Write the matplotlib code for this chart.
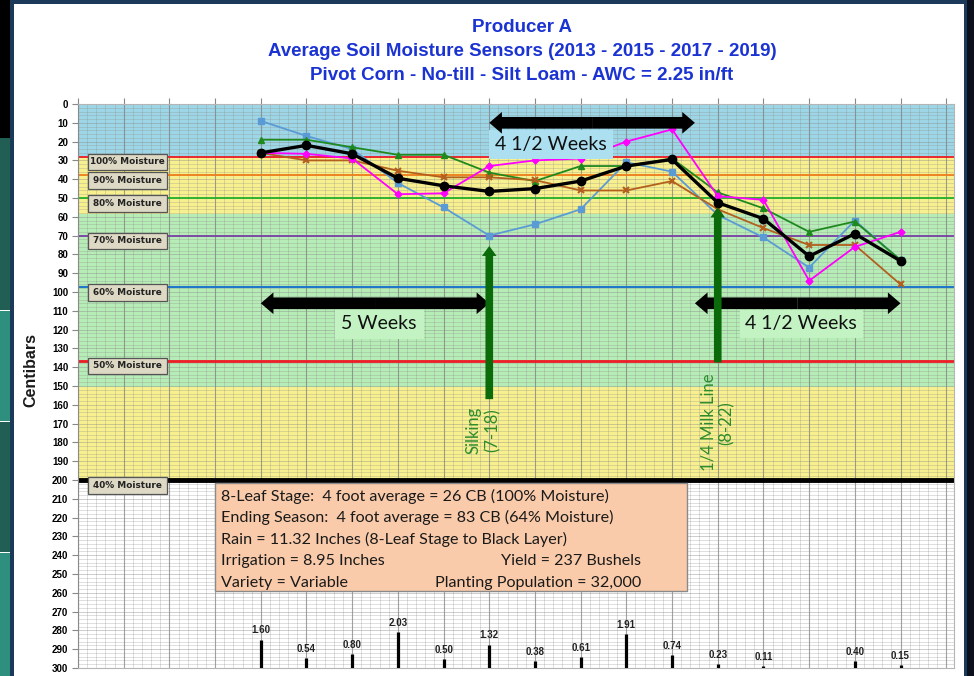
import matplotlib
matplotlib.use("Agg")
import matplotlib.pyplot as plt
import numpy as np
from matplotlib.patches import Rectangle
from matplotlib.transforms import Affine2D
from matplotlib.ticker import MultipleLocator

# ---- data ----
weeks = [4, 5, 6, 7, 8, 9, 10, 11, 12, 13, 14, 15, 16, 17, 18]

sensor_blue = [9, 17, 24, 42, 55, 70, 64, 56, 31, 36, 59, 71, 87, 62, 83]
sensor_green = [19, 19, 23, 27, 27, 36.5, 41, 33, 33, 29, 47, 55.5, 68, 62.5, 83]
sensor_brown = [26, 30, 30, 35.5, 39, 39, 40.5, 46, 46, 41, 56, 66, 75, 75, 96]
sensor_pink = [26, 26.5, 29, 48, 47.5, 33, 30, 29, 20, 13.5, 49, 51, 94, 76, 68]
sensor_avg = [26, 22, 26.5, 39.5, 43.5, 46.5, 45, 41, 33, 29.5, 52.5, 61, 81, 69, 83.5]

rain_weeks = [4, 5, 6, 7, 8, 9, 10, 11, 12, 13, 14, 15, 17, 18]
rain_in = [1.60, 0.54, 0.80, 2.03, 0.50, 1.32, 0.38, 0.61, 1.91, 0.74, 0.23, 0.11, 0.40, 0.15]

moist_levels = [28, 38, 50, 70, 97.5, 136.5, 200]
moist_labels = ["100% Moisture", "90% Moisture", "80% Moisture", "70% Moisture",
                "60% Moisture", "50% Moisture", "40% Moisture"]
moist_colors = ["#ee1c25", "#ee7d1a", "#22b02a", "#7a3fa6", "#1f78c8", "#ee1c25", "black"]
moist_widths = [1.3, 1.3, 1.3, 1.3, 1.5, 2.0, 3.5]

bands = [(0, 28, "#9dd6e6"), (28, 58.5, "#f8f08e"), (58.5, 150.5, "#b6ecb6"), (150.5, 200, "#f8f08e")]

info_left = ["8-Leaf Stage:  4 foot average = 26 CB (100% Moisture)",
             "Ending Season:  4 foot average = 83 CB (64% Moisture)",
             "Rain = 11.32 Inches (8-Leaf Stage to Black Layer)",
             "Irrigation = 8.95 Inches",
             "Variety = Variable"]
info_right = ["", "", "", "Yield = 237 Bushels", "Planting Population = 32,000"]

title_lines = ["Producer A",
               "Average Soil Moisture Sensors (2013 - 2015 - 2017 - 2019)",
               "Pivot Corn - No-till - Silt Loam - AWC = 2.25 in/ft"]

W, H = 974, 676
fig = plt.figure(figsize=(W / 100, H / 100), dpi=100)
fig.patch.set_facecolor("white")

# pixel coords (top-left origin) -> figure
pix = Affine2D().scale(1 / W, -1 / H).translate(0, 1) + fig.transFigure


def fig_rect(x, y, w, h, color):
    fig.add_artist(Rectangle((x, y), w, h, transform=pix, facecolor=color, edgecolor="none", zorder=-5))


# slide frame around the chart
fig_rect(0, 0, 10, 138, "black")
fig_rect(0, 138, 10, 172, "#215f55")
fig_rect(0, 311, 10, 110, "#2f8f7f")
fig_rect(0, 422, 10, 130, "#215f55")
fig_rect(0, 553, 10, 123, "#2f8f7f")
fig_rect(10, 0, 4, H, "#1b3a5a")
fig_rect(10, 0, 958, 4, "#1b3a5a")
fig_rect(964, 0, 4, H, "#1b3a5a")
fig_rect(967, 0, 7, H, "#0a111c")

ax = fig.add_axes([78 / W, 8 / H, 876 / W, 564 / H])
ax.set_xlim(0, 19.17)
ax.set_ylim(300, 0)

for y0, y1, c in bands:
    ax.axhspan(y0, y1, color=c, zorder=0.1, lw=0)

ax.set_axisbelow(True)
ax.xaxis.set_major_locator(MultipleLocator(1))
ax.xaxis.set_minor_locator(MultipleLocator(0.2))
ax.yaxis.set_major_locator(MultipleLocator(10))
ax.yaxis.set_minor_locator(MultipleLocator(2))
ax.grid(which="minor", color="#8c8c8c", alpha=0.4, lw=0.5)
ax.grid(which="major", axis="y", color="#8c8c8c", alpha=0.5, lw=0.6)
ax.grid(which="major", axis="x", color="#7a7a7a", alpha=0.7, lw=0.8)

ax.xaxis.tick_top()
ax.tick_params(axis="x", which="major", length=4, color="#888888", labeltop=False)
ax.tick_params(axis="x", which="minor", length=0)
ax.tick_params(axis="y", which="major", length=4, color="#888888", pad=3)
ax.tick_params(axis="y", which="minor", length=0)
for lab in ax.get_yticklabels():
    lab.set_fontfamily("Liberation Sans")
    lab.set_fontweight("bold")
    lab.set_fontsize(7)
for s in ax.spines.values():
    s.set_color("#b5b5b5")
    s.set_linewidth(0.8)
ax.spines["left"].set_color("#8a8a8a")

# moisture reference lines + labels
for lvl, lab, c, lw in zip(moist_levels, moist_labels, moist_colors, moist_widths):
    ax.axhline(lvl, color=c, lw=lw, zorder=1.2)
    ax.add_patch(Rectangle((0.22, lvl - 1.6), 1.73, 8.8, facecolor="#ddd9c4", edgecolor="#555555",
                           lw=0.9, zorder=3))
    ax.text(1.085, lvl + 2.8, lab, ha="center", va="center", fontsize=6.4,
            fontweight="bold", family="DejaVu Sans", color="#222222", zorder=3.5)

# sensor series
ax.plot(weeks, sensor_blue, color="#5b9bd5", lw=1.3, marker="s", ms=4, zorder=4)
ax.plot(weeks, sensor_green, color="#1e8a1e", lw=1.3, marker="^", ms=4.5, zorder=4)
ax.plot(weeks, sensor_brown, color="#b35f1e", lw=1.3, marker="x", ms=4.5, mew=1.5, zorder=4)
ax.plot(weeks, sensor_pink, color="#ff00ff", lw=1.3, marker="D", ms=3.5, zorder=4)
ax.plot(weeks, sensor_avg, color="black", lw=2.4, marker="o", ms=6, zorder=5)

# rain bars at the bottom
rain_scale = 9.45
rain_top = [300 - rain_scale * r for r in rain_in]
ax.vlines(rain_weeks, rain_top, 300, color="black", lw=2.3, zorder=4)
for xw, yt, r in zip(rain_weeks, rain_top, rain_in):
    ax.text(xw, yt - 2.2, f"{r:.2f}", ha="center", va="bottom", fontsize=7,
            fontweight="bold", family="Liberation Sans", color="#222222", zorder=4)

# growth-stage arrows
blk = "simple,head_length=0.91,head_width=1.56,tail_width=0.84"
for (xa, xb, yy) in [(9.0, 13.5, 10), (4.0, 9.0, 106), (13.5, 18.0, 106)]:
    mid = (xa + xb) / 2
    for tip in (xa, xb):
        ax.annotate("", xy=(tip, yy), xytext=(mid, yy),
                    arrowprops=dict(arrowstyle=blk, mutation_scale=10, color="black",
                                    lw=0, shrinkA=0, shrinkB=0), zorder=6)

wk_font = dict(fontsize=14, family="Lato", color="#111111", ha="center", va="center", zorder=5.5)
ax.text(10.35, 21.5, "4 1/2 Weeks",
        bbox=dict(boxstyle="square,pad=0.3", fc="#ace0f1", ec="none"), **wk_font)
ax.text(6.59, 117, "5 Weeks",
        bbox=dict(boxstyle="square,pad=0.35", fc="#c3f3c3", ec="none"), **wk_font)
ax.text(15.83, 117, "4 1/2 Weeks",
        bbox=dict(boxstyle="square,pad=0.3", fc="#c3f3c3", ec="none"), **wk_font)

grn = "simple,head_length=0.72,head_width=1.05,tail_width=0.55"
for xs, y_tail, y_tip in [(9.0, 157, 75.5), (14.0, 137.5, 55)]:
    ax.annotate("", xy=(xs, y_tip), xytext=(xs, y_tail),
                arrowprops=dict(arrowstyle=grn, mutation_scale=10, color="#0b6b0b",
                                lw=0, shrinkA=0, shrinkB=0), zorder=6)

ax.text(8.86, 173.5, "Silking\n(7-18)", rotation=90, ha="center", va="center",
        multialignment="center", fontsize=12, family="Lato", color="#2e8b2e", zorder=5)
ax.text(14.0, 169.5, "1/4 Milk Line\n(8-22)", rotation=90, ha="center", va="center",
        multialignment="center", fontsize=12, family="Lato", color="#2e8b2e", zorder=5)

# info box
ax.add_patch(Rectangle((2.99, 201.6), 10.33, 57.4, facecolor="#f9cbaa", edgecolor="#8a8a8a",
                       lw=1.0, zorder=5))
for i, (tl, tr) in enumerate(zip(info_left, info_right)):
    yy = 208.5 + 11.6 * i
    ax.text(3.12, yy, tl, ha="left", va="center", fontsize=11.6, family="Lato",
            color="#1a1a1a", zorder=6)
    if tr:
        ax.text(12.33, yy, tr, ha="right", va="center", fontsize=11.6, family="Lato",
                color="#1a1a1a", zorder=6)

# titles and axis label
for i, t in enumerate(title_lines):
    fig.text(522 / W, 1 - (28 + 24 * i) / H, t, ha="center", va="center", fontsize=13.5,
             fontweight="bold", family="Liberation Sans", color="#1a33d2")

fig.text(31 / W, 1 - 370 / H, "Centibars", rotation=90, ha="center", va="center",
         fontsize=11.5, fontweight="bold", family="Liberation Sans", color="#1a1a1a")

fig.savefig("out.png", dpi=100)
